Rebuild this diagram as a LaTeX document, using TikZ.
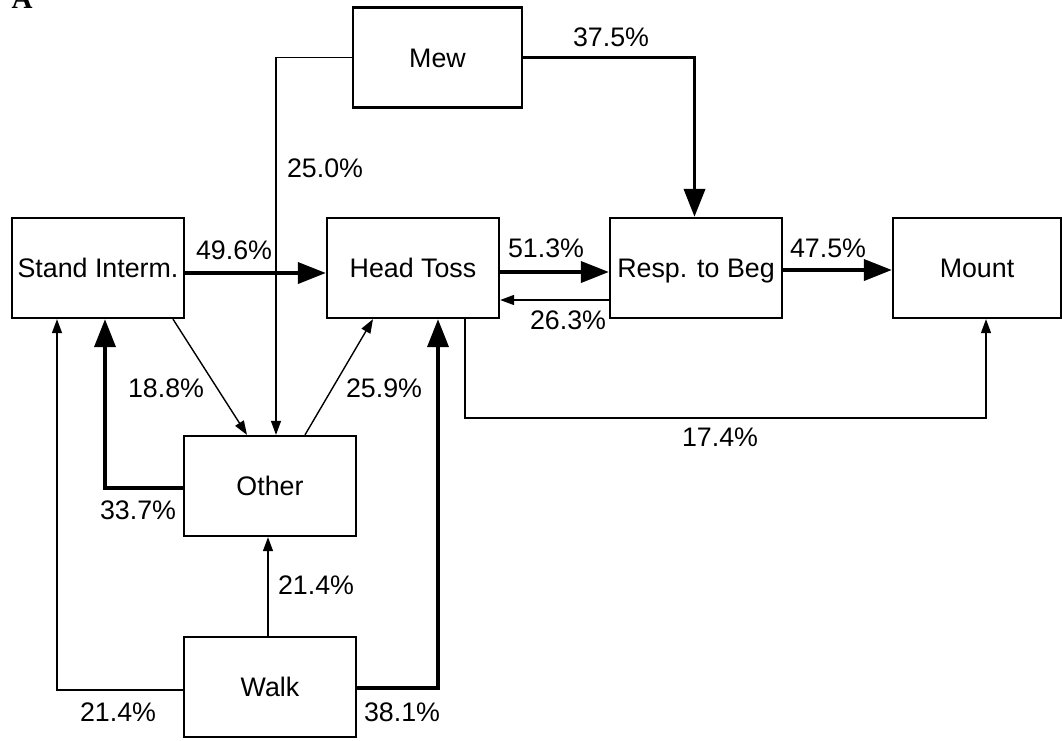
\documentclass[tikz,border=0pt]{standalone}
\usepackage{fontspec}
\setmainfont{Liberation Sans}
\newfontfamily\panelfont{Liberation Serif}
\usetikzlibrary{arrows.meta}
\begin{document}
\begin{tikzpicture}[x=1pt,y=-1pt,
  box/.style={draw,line width=2.3pt,minimum width=172pt,minimum height=100pt,inner sep=0pt,
    font=\fontsize{26.8}{30}\selectfont,text height=19.2pt,text depth=0pt},
  lbl/.style={inner sep=0pt,font=\fontsize{26.8}{30}\selectfont,text height=19.2pt,text depth=0pt},
  thinarr/.style={line width=1.4pt,-{Triangle[length=14pt,width=10pt]}},
  thickarr/.style={line width=3.8pt,-{Triangle[length=28pt,width=21pt]}}]
\useasboundingbox (0,0) rectangle (1062,740);
% panel letter
\node[anchor=base,inner sep=0pt,font=\panelfont\bfseries\fontsize{29}{32}\selectfont] (panel) at (22,8) {A};
% boxes
\node[box,minimum width=169pt] (mew) at (437.5,57.5) {Mew};
\node[box] (stand) at (98,268) {Stand Interm.};
\node[box] (head) at (413,268) {Head Toss};
\node[box] (resp) at (696,268) {Resp. to Beg};
\node[box,minimum width=168pt] (mount) at (977,268) {Mount};
\node[box] (other) at (270,486) {Other};
\node[box] (walk) at (270,687) {Walk};
% connectors
\draw[thinarr] (mew.west) -| ([xshift=6pt]other.north);
\draw[thickarr,line join=miter] (mew.east) -| ([xshift=-1.5pt]resp.north);
\draw[thickarr] ([yshift=-5pt]stand.east) -- ([yshift=-5pt]head.west);
\draw[thickarr] ([yshift=-4pt]head.east) -- ([yshift=-4pt]resp.west);
\draw[thinarr] ([yshift=-32pt]resp.west) -- ([yshift=-32pt]head.east);
\draw[thickarr] ([yshift=-2pt]resp.east) -- ([yshift=-2pt]mount.west);
\draw[thinarr] ([xshift=52pt]head.south) |- ([xshift=9pt,yshift=-99pt]mount.south) -- ([xshift=9pt]mount.south);
\draw[thinarr] ([xshift=75pt]stand.south) -- ([xshift=-23pt]other.north);
\draw[thinarr] ([xshift=35pt]other.north) -- ([xshift=-40pt]head.south);
\draw[thickarr,line join=miter] ([yshift=-2pt]other.west) -| ([xshift=7pt]stand.south);
\draw[thinarr] ([yshift=-3pt]walk.west) -| ([xshift=-41pt]stand.south);
\draw[thickarr,line join=miter] ([yshift=-1pt]walk.east) -| ([xshift=25pt]head.south);
\draw[thinarr] ([xshift=-2pt]walk.north) -- ([xshift=-2pt]other.south);
% labels
\node[lbl] (l250) at (325,168) {25.0\%};
\node[lbl] (l375) at (611,37) {37.5\%};
\node[lbl] (l496) at (234,250) {49.6\%};
\node[lbl] (l513) at (546,248) {51.3\%};
\node[lbl] (l475) at (828,248) {47.5\%};
\node[lbl,fill=white,inner sep=1pt] (l263) at (568,320) {26.3\%};
\node[lbl] (l188) at (166,388) {18.8\%};
\node[lbl] (l259) at (384,388) {25.9\%};
\node[lbl] (l174) at (720,437) {17.4\%};
\node[lbl] (l337) at (138,510) {33.7\%};
\node[lbl] (l214a) at (316,585) {21.4\%};
\node[lbl] (l214b) at (118,712) {21.4\%};
\node[lbl] (l381) at (402,712) {38.1\%};
\end{tikzpicture}
\end{document}
